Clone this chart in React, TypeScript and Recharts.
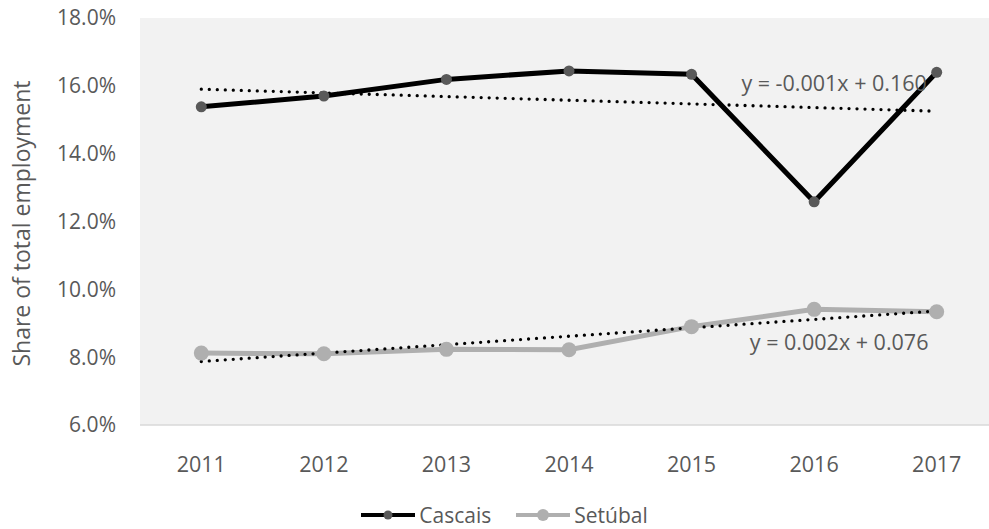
import React from "react";
import {
  CartesianGrid,
  Legend,
  Line,
  LineChart,
  ReferenceDot,
  XAxis,
  YAxis,
} from "recharts";

const years = ["2011", "2012", "2013", "2014", "2015", "2016", "2017"];
const cascais = [0.1538, 0.157, 0.1619, 0.1644, 0.1634, 0.1258, 0.164];
const setubal = [0.0812, 0.081, 0.0823, 0.0822, 0.089, 0.0941, 0.0934];
const yTicks = [0.06, 0.08, 0.1, 0.12, 0.14, 0.16, 0.18];

const TEXT = "#595959";
const FONT = "'Open Sans', sans-serif";

// least-squares fit against the year index (1..n), like a spreadsheet linear trendline
function linearFit(values: number[]) {
  const n = values.length;
  const xs = values.map((_, i) => i + 1);
  const mx = xs.reduce((a, b) => a + b, 0) / n;
  const my = values.reduce((a, b) => a + b, 0) / n;
  let num = 0;
  let den = 0;
  xs.forEach((x, i) => {
    num += (x - mx) * (values[i] - my);
    den += (x - mx) * (x - mx);
  });
  const slope = num / den;
  const intercept = my - slope * mx;
  return { slope, intercept, points: xs.map((x) => intercept + slope * x) };
}

const cascaisFit = linearFit(cascais);
const setubalFit = linearFit(setubal);

const equation = (fit: { slope: number; intercept: number }) =>
  `y = ${fit.slope.toFixed(3)}x + ${fit.intercept.toFixed(3)}`;

const chartData = years.map((year, i) => ({
  year,
  cascais: cascais[i],
  setubal: setubal[i],
  cascaisTrend: cascaisFit.points[i],
  setubalTrend: setubalFit.points[i],
}));

const legendItems = [
  { name: "Cascais", line: "#000000", dot: "#595959", r: 4.5 },
  { name: "Setúbal", line: "#AFAFAF", dot: "#AFAFAF", r: 6 },
];

function ChartLegend() {
  return (
    <div
      style={{
        display: "flex",
        justifyContent: "center",
        alignItems: "center",
        gap: 24,
        paddingLeft: 10,
        fontFamily: FONT,
        fontSize: 21,
        color: TEXT,
        height: 28,
      }}
    >
      {legendItems.map((item) => (
        <div key={item.name} style={{ display: "flex", alignItems: "center" }}>
          <svg width={56} height={16} style={{ marginRight: 3 }}>
            <line x1={1} y1={8} x2={55} y2={8} stroke={item.line} strokeWidth={4} />
            <circle cx={28} cy={8} r={item.r} fill={item.dot} />
          </svg>
          <span>{item.name}</span>
        </div>
      ))}
    </div>
  );
}

const trendLabel = (text: string, dx: number) => (props: any) => {
  const { viewBox } = props;
  return (
    <text
      x={viewBox.x + dx}
      y={viewBox.y}
      dy="0.35em"
      textAnchor="middle"
      fill={TEXT}
      fontFamily={FONT}
      fontSize={21.5}
    >
      {text}
    </text>
  );
};

export default function App() {
  return (
    <div
      style={{
        position: "absolute",
        left: 0,
        top: 0,
        width: 989,
        height: 529,
        overflow: "hidden",
        background: "#FFFFFF",
      }}
    >
      <LineChart
        width={1000}
        height={529}
        data={chartData}
        margin={{ top: 18, right: 2, left: 0, bottom: 0 }}
      >
        <CartesianGrid fill="#F2F2F2" stroke="none" horizontal={false} vertical={false} />
        <XAxis
          dataKey="year"
          height={76}
          padding={{ left: 61.3, right: 61.3 }}
          axisLine={{ stroke: "#D9D9D9", strokeWidth: 1.5 }}
          tickLine={false}
          tickSize={0}
          tickMargin={32}
          tick={{ fill: TEXT, fontSize: 21.5, fontFamily: FONT }}
        />
        <YAxis
          width={140}
          domain={[0.06, 0.18]}
          ticks={yTicks}
          axisLine={false}
          tickLine={false}
          tickSize={0}
          tickMargin={24}
          tickFormatter={(v: number) => `${(v * 100).toFixed(1)}%`}
          tick={{ fill: TEXT, fontSize: 21, fontFamily: FONT }}
          label={{
            content: (props: any) => {
              const { viewBox } = props;
              const cx = 30;
              const cy = viewBox.y + viewBox.height / 2 + 2;
              return (
                <text
                  x={cx}
                  y={cy}
                  transform={`rotate(-90, ${cx}, ${cy})`}
                  textAnchor="middle"
                  fill={TEXT}
                  fontFamily={FONT}
                  fontSize={23}
                >
                  Share of total employment
                </text>
              );
            },
          }}
        />
        <Legend verticalAlign="bottom" wrapperStyle={{ height: 28 }} content={<ChartLegend />} />
        <Line
          dataKey="cascais"
          stroke="#000000"
          strokeWidth={5}
          dot={{ r: 5.5, fill: "#595959", stroke: "none" }}
          activeDot={false}
          isAnimationActive={false}
        />
        <Line
          dataKey="setubal"
          stroke="#AFAFAF"
          strokeWidth={5}
          dot={{ r: 7.5, fill: "#AFAFAF", stroke: "none" }}
          activeDot={false}
          isAnimationActive={false}
        />
        <Line
          dataKey="cascaisTrend"
          stroke="#000000"
          strokeWidth={3.3}
          strokeDasharray="0 8"
          strokeLinecap="round"
          dot={false}
          activeDot={false}
          isAnimationActive={false}
          legendType="none"
        />
        <Line
          dataKey="setubalTrend"
          stroke="#000000"
          strokeWidth={3.3}
          strokeDasharray="0 8"
          strokeLinecap="round"
          dot={false}
          activeDot={false}
          isAnimationActive={false}
          legendType="none"
        />
        <ReferenceDot
          x="2016"
          y={0.1608}
          r={0}
          stroke="none"
          fill="none"
          label={{ content: trendLabel(equation(cascaisFit), 20) }}
        />
        <ReferenceDot
          x="2016"
          y={0.0842}
          r={0}
          stroke="none"
          fill="none"
          label={{ content: trendLabel(equation(setubalFit), 25) }}
        />
      </LineChart>
    </div>
  );
}
